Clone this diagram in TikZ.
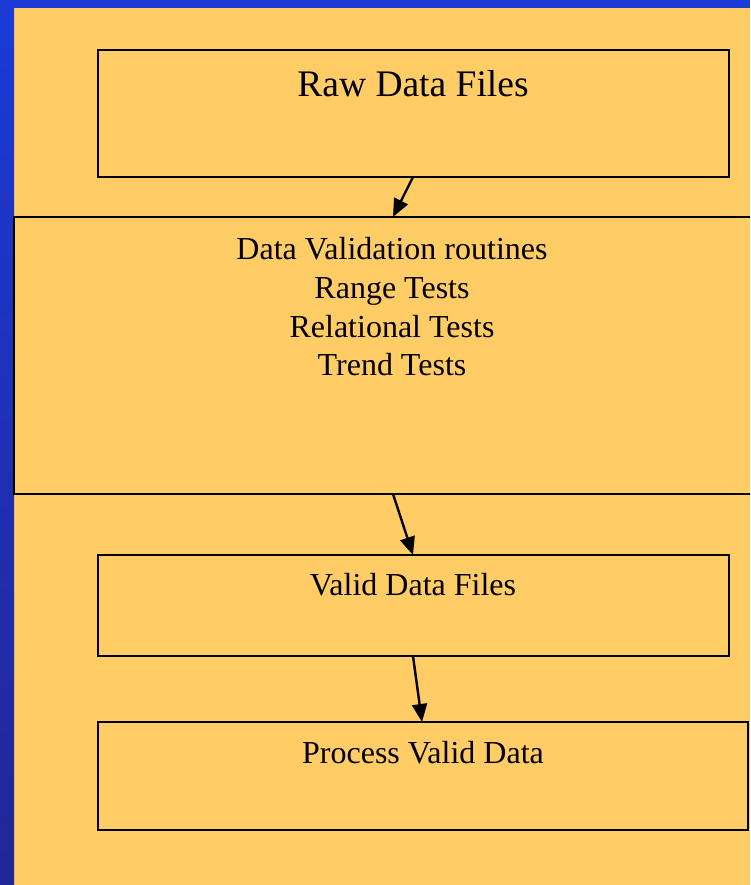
\documentclass[tikz,border=0pt]{standalone}
\usepackage{fontspec}
\setmainfont{Liberation Serif}
\usetikzlibrary{arrows.meta}
\definecolor{bg}{RGB}{255,204,102}
\definecolor{bluetop}{RGB}{27,58,214}
\definecolor{bluebot}{RGB}{34,38,150}
\tikzset{
  box/.style={draw=black, line width=2.4pt, fill=bg},
  lbl/.style={font=\fontsize{32}{38.7}\selectfont, align=center, anchor=center, inner sep=0pt},
  conn/.style={line width=2.4pt, -{Triangle[length=18pt,width=15pt]}}
}
\begin{document}
\begin{tikzpicture}[x=1pt,y=-1pt]
\useasboundingbox (0,0) rectangle (750,885);
\begin{scope}
\clip (0,0) rectangle (750,885);
\fill[bg] (0,0) rectangle (750,885);
\shade[top color=bluetop, bottom color=bluebot] (0,0) rectangle (14,885);
\fill[bluetop] (0,0) rectangle (750,8);
% boxes
\draw[box] (98,50) rectangle (729,177);
\draw[box] (14,217) rectangle (754,494);
\draw[box] (98,555) rectangle (729,656);
\draw[box] (98,722) rectangle (748,830);
\coordinate (b1s) at (413,177);
\coordinate (b2n) at (393,217);
\coordinate (b2s) at (393,494);
\coordinate (b3n) at (413,555);
\coordinate (b3s) at (413,656);
\coordinate (b4n) at (422,722);
\node[lbl, font=\fontsize{37.5}{44}\selectfont] (t1) at (413,84) {Raw Data Files};
\node[lbl] (t2) at (392,307) {Data Validation routines\\Range Tests\\Relational Tests\\Trend Tests};
\node[lbl] (t3) at (413,585) {Valid Data Files};
\node[lbl] (t4) at (423,753) {Process Valid Data};
\draw[conn] (b1s) -- (b2n);
\draw[conn] (b2s) -- (b3n);
\draw[conn] (b3s) -- (b4n);
\end{scope}
\end{tikzpicture}
\end{document}
